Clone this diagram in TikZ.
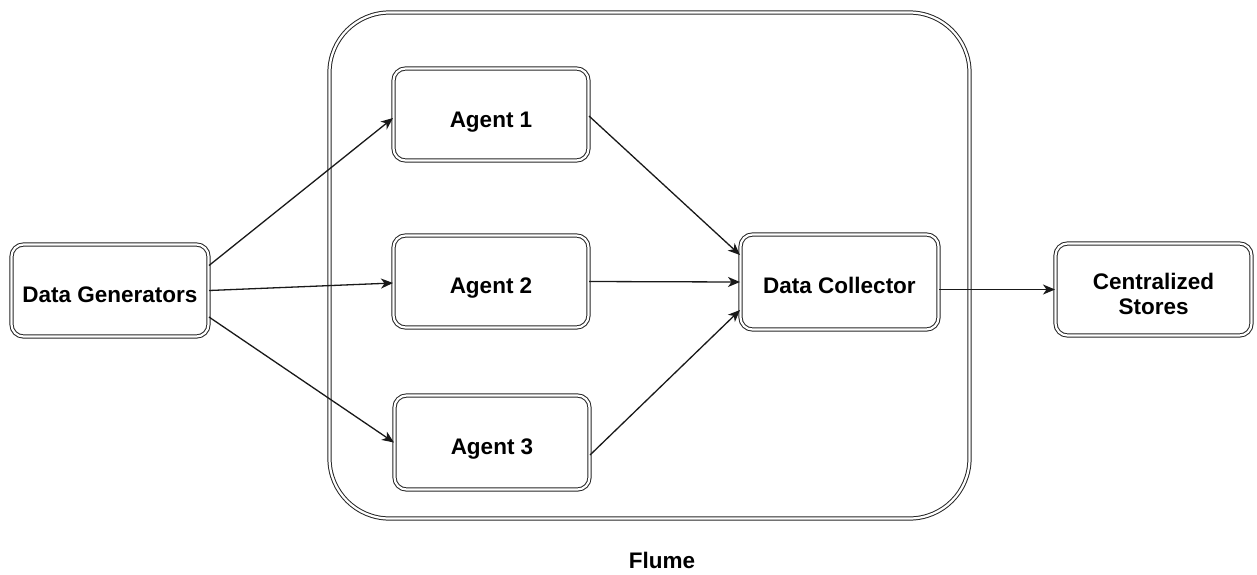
\documentclass[tikz,border=0pt]{standalone}
\usepackage{fontspec}
\setmainfont{Liberation Sans}
\usetikzlibrary{arrows.meta}
\tikzset{
  dbl/.style={draw=black!85, line width=1pt, double=white, double distance=2.2pt},
  txt/.style={font=\fontsize{22.5}{25}\selectfont\bfseries, align=center, inner sep=0pt},
  one/.style={txt, text height=16pt, text depth=0pt, yshift=-3.5pt},
  box/.style={dbl, rounded corners=12pt, inner sep=0pt},
  conn/.style={draw=black!90, line width=1.3pt, -{Stealth[length=12pt,width=10pt,inset=3.5pt]}},
}
\begin{document}
\begin{tikzpicture}[x=1pt,y=-1pt]
\useasboundingbox (0,0) rectangle (1257,574);
\draw[dbl, rounded corners=60pt] (329.5,12.5) rectangle (969.5,518.5);
\node[txt] (flume) at (662,560) {Flume};
\node[box, minimum width=197pt, minimum height=92pt, label={[one]center:Data Generators}] (dg) at (110,290.5) {};
\node[box, minimum width=195pt, minimum height=92pt, label={[one, yshift=-1.5pt]center:Agent 1}] (a1) at (491,114.5) {};
\node[box, minimum width=195pt, minimum height=92pt, label={[one]center:Agent 2}] (a2) at (491,281.5) {};
\node[box, minimum width=195pt, minimum height=94pt, label={[one]center:Agent 3}] (a3) at (492,442.5) {};
\node[box, minimum width=198pt, minimum height=95pt, label={[one]center:Data Collector}] (dc) at (839.5,282) {};
\node[box, minimum width=196pt, minimum height=92pt, label={[txt, yshift=-4pt]center:Centralized\\Stores}] (cs) at (1153.5,289.5) {};
\draw[conn] ([yshift=25pt]dg.east) -- ([yshift=-3.5pt]a1.west);
\draw[conn] (dg.east) -- ([yshift=-1.5pt]a2.west);
\draw[conn] ([yshift=-26.5pt]dg.east) -- (a3.west);
\draw[conn] ([yshift=-1.5pt]a1.east) -- ([yshift=27pt]dc.west);
\draw[conn] (a2.east) -- (dc.west);
\draw[conn] ([yshift=-12.5pt]a3.east) -- ([yshift=-28pt]dc.west);
\draw[conn] ([yshift=-7.5pt]dc.east) -- (cs.west);
\end{tikzpicture}
\end{document}
